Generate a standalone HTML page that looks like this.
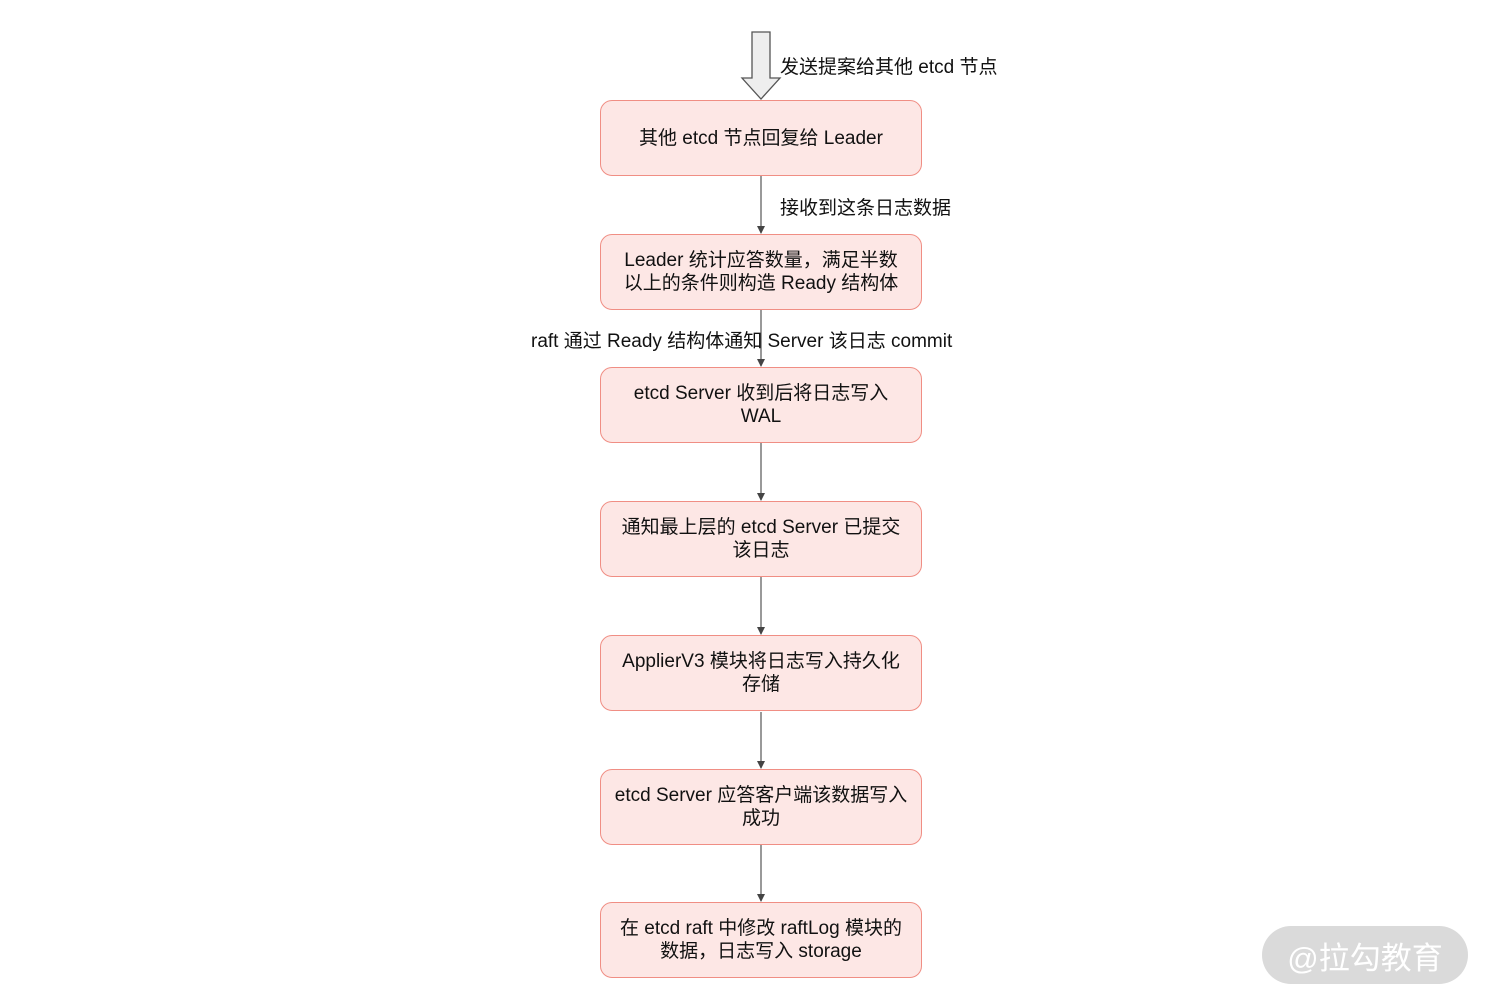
<!DOCTYPE html>
<html><head><meta charset="utf-8"><style>
body{margin:0;width:1490px;height:1004px;background:#fff;position:relative;overflow:hidden;font-family:"Liberation Sans","Noto Sans CJK SC",sans-serif;color:#111}
.b{position:absolute;left:600px;width:320px;height:74px;border:1.5px solid #f08e84;background:#fde7e5;border-radius:12px;display:flex;align-items:center;justify-content:center;text-align:center;font-size:19px;line-height:23px}
.l{position:absolute;font-size:19px;white-space:nowrap}
.wm{position:absolute;left:1262px;top:926px;width:206px;height:58px;border-radius:29px;background:#dadada;color:#fff;font-size:31px;display:flex;align-items:center;justify-content:center}
</style></head><body>
<svg width="1490" height="1004" style="position:absolute;left:0;top:0">
<defs><marker id="a" markerWidth="8" markerHeight="8" refX="7" refY="4" orient="auto" markerUnits="userSpaceOnUse"><path d="M0,0 L8,4 L0,8z" fill="#444"/></marker></defs>
<path d="M752,32 H770 V78 H780 L761,99 L742,78 H752 Z" fill="#eee" stroke="#555" stroke-width="1.3"/>
<g stroke="#555" stroke-width="1.2" marker-end="url(#a)">
<line x1="761" y1="176" x2="761" y2="233"/>
<line x1="761" y1="310" x2="761" y2="366"/>
<line x1="761" y1="443" x2="761" y2="500"/>
<line x1="761" y1="577" x2="761" y2="634"/>
<line x1="761" y1="712" x2="761" y2="768"/>
<line x1="761" y1="845" x2="761" y2="901"/>
</g>
</svg>
<div class="l" style="left:780px;top:52px">发送提案给其他 etcd 节点</div>
<div class="b" style="top:100px">其他 etcd 节点回复给 Leader</div>
<div class="l" style="left:780px;top:193px">接收到这条日志数据</div>
<div class="b" style="top:234px">Leader 统计应答数量，满足半数<br>以上的条件则构造 Ready 结构体</div>
<div class="l" style="left:531px;top:326px">raft 通过 Ready 结构体通知 Server 该日志 commit</div>
<div class="b" style="top:367px">etcd Server 收到后将日志写入<br>WAL</div>
<div class="b" style="top:501px">通知最上层的 etcd Server 已提交<br>该日志</div>
<div class="b" style="top:635px">ApplierV3 模块将日志写入持久化<br>存储</div>
<div class="b" style="top:769px">etcd Server 应答客户端该数据写入<br>成功</div>
<div class="b" style="top:902px">在 etcd raft 中修改 raftLog 模块的<br>数据，日志写入 storage</div>
<div class="wm">@拉勾教育</div>
</body></html>
